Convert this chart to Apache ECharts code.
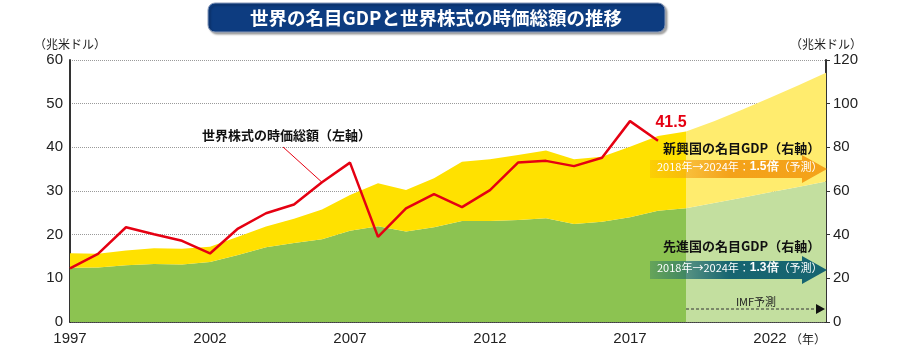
<!DOCTYPE html>
<html>
<head>
<meta charset="utf-8">
<script src="https://cdn.jsdelivr.net/npm/echarts@6/dist/echarts.min.js"></script>
<style>
  html, body { margin: 0; padding: 0; background: #fff; }
  #chart { width: 900px; height: 349px; }
</style>
</head>
<body>
<div id="chart"></div>
<script>
// Years on the horizontal axis
const years = ['1997','1998','1999','2000','2001','2002','2003','2004','2005','2006',
               '2007','2008','2009','2010','2011','2012','2013','2014','2015','2016',
               '2017','2018','2019','2020','2021','2022','2023','2024'];

// Nominal GDP of advanced economies, trillion USD (right axis)
const advancedGdp = [24.9, 25.0, 26.0, 26.6, 26.3, 27.5, 30.7, 34.2, 36.2, 37.9,
                     41.8, 43.8, 41.4, 43.4, 46.3, 46.3, 46.7, 47.5, 44.9, 45.9,
                     48.0, 51.0, 52.1, 54.5, 56.9, 59.4, 61.8, 64.3];

// Nominal GDP of emerging economies, trillion USD (right axis, stacked on advanced)
const emergingGdp = [6.6, 6.3, 6.7, 7.2, 7.3, 7.0, 8.4, 9.5, 11.1, 13.6,
                     16.4, 19.7, 19.1, 22.4, 27.1, 28.2, 29.8, 31.0, 29.6, 29.8,
                     32.3, 34.2, 35.1, 37.5, 40.3, 43.3, 46.5, 49.9];

// World stock market capitalisation, trillion USD (left axis), 1997-2018
const marketCap = [12.3, 15.6, 21.7, 20.1, 18.6, 15.7, 21.4, 24.9, 26.9, 32.0,
                   36.5, 19.5, 26.0, 29.3, 26.3, 30.2, 36.5, 36.9, 35.7, 37.6,
                   46.0, 41.5];

// Tick labels
const leftTicks = [0, 10, 20, 30, 40, 50, 60];
const rightTicks = [0, 20, 40, 60, 80, 100, 120];

// First projected year (IMF forecast)
const forecastFrom = '2019';

const fIdx = years.indexOf(forecastFrom);
const actualPart = arr => arr.map((v, i) => (i <= fIdx ? v : '-'));
const forecastPart = arr => arr.map((v, i) => (i >= fIdx ? v : '-'));
const capData = years.map((y, i) => (i < marketCap.length ? marketCap[i] : '-'));
const lastCap = marketCap.length - 1;
capData[lastCap] = {
  value: marketCap[lastCap],
  label: {
    show: true, position: [13, -18], align: 'center', verticalAlign: 'middle',
    formatter: p => Number(p.value).toFixed(1),
    color: '#E50012', fontSize: 16, fontWeight: 'bold',
    fontFamily: 'Liberation Sans, Arial, sans-serif'
  }
};

const numFont = 'Liberation Sans, Arial, sans-serif';
const jpFont = 'Noto Sans CJK JP, sans-serif';
const everyFive = i => i % 5 === 0;

const area = (name, stack, data, color) => ({
  name, type: 'line', stack, yAxisIndex: 1, data,
  symbol: 'none', smooth: false,
  lineStyle: { width: 0, opacity: 0 },
  areaStyle: { color, opacity: 1 },
  emphasis: { disabled: true },
  z: 2
});

const chart = echarts.init(document.getElementById('chart'), null, { renderer: 'canvas' });

chart.setOption({
  animation: false,
  grid: { left: 70, right: 74, top: 60, bottom: 27, containLabel: false },
  xAxis: {
    type: 'category', data: years, boundaryGap: false,
    axisLine: { lineStyle: { color: '#222', width: 1.5 } },
    axisTick: { show: true, inside: true, length: 4, interval: everyFive, lineStyle: { color: '#222' } },
    axisLabel: { interval: everyFive, color: '#222', fontSize: 15, fontFamily: numFont, margin: 9 },
    splitLine: { show: false }
  },
  yAxis: [
    {
      type: 'value', min: leftTicks[0], max: leftTicks[leftTicks.length - 1], interval: 10,
      position: 'left',
      name: '（兆米ドル）', nameLocation: 'end', nameGap: 10,
      nameTextStyle: { color: '#222', fontSize: 12, fontFamily: jpFont, align: 'center' },
      axisLine: { show: true, lineStyle: { color: '#333', width: 2 } },
      axisTick: { show: false },
      axisLabel: { color: '#222', fontSize: 15, fontFamily: numFont, margin: 7 },
      splitLine: { show: true, lineStyle: { color: '#9a9a9a', type: 'dotted', width: 1 } }
    },
    {
      type: 'value', min: rightTicks[0], max: rightTicks[rightTicks.length - 1], interval: 20,
      position: 'right',
      name: '（兆米ドル）', nameLocation: 'end', nameGap: 10,
      nameTextStyle: { color: '#222', fontSize: 12, fontFamily: jpFont, align: 'center' },
      axisLine: { show: true, lineStyle: { color: '#333', width: 2 } },
      axisTick: { show: true, length: 4, lineStyle: { color: '#333' } },
      axisLabel: { color: '#222', fontSize: 15, fontFamily: numFont, margin: 7 },
      splitLine: { show: false }
    }
  ],
  series: [
    area('先進国（実績）', 'act', actualPart(advancedGdp), '#8CC351'),
    area('新興国（実績）', 'act', actualPart(emergingGdp), '#FFE100'),
    area('先進国（予測）', 'fc', forecastPart(advancedGdp), '#C3DF9F'),
    area('新興国（予測）', 'fc', forecastPart(emergingGdp), '#FFEC6E'),
    {
      name: '世界株式の時価総額', type: 'line', yAxisIndex: 0, data: capData,
      symbol: 'circle', symbolSize: 0, showSymbol: true, showAllSymbol: true,
      itemStyle: { color: '#E50012' },
      lineStyle: { color: '#E50012', width: 2.5 },
      labelLayout: { hideOverlap: false },
      emphasis: { disabled: true }, z: 5
    }
  ]
});

// Annotations placed relative to the axes
const px = (xVal, yVal, axis) => chart.convertToPixel({ xAxisIndex: 0, yAxisIndex: axis }, [xVal, yVal]);
const pt2006 = px('2006', marketCap[years.indexOf('2006')], 0);
const fStart = px(forecastFrom, 0, 1);
const fEnd = px(years[years.length - 1], 0, 1);

function arrow(cy, color, faint, ratio) {
  const x0 = 650, headX = 802, tip = fEnd[0] + 1, bh = 9, hh = 14;
  return [
    {
      type: 'polygon', z: 20,
      shape: { points: [[x0, cy - bh], [headX, cy - bh], [headX, cy - hh], [tip, cy], [headX, cy + hh], [headX, cy + bh], [x0, cy + bh]] },
      style: {
        fill: new echarts.graphic.LinearGradient(0, 0, 1, 0, [
          { offset: 0, color: faint },
          { offset: 0.45, color: color },
          { offset: 1, color: color }
        ])
      }
    },
    {
      type: 'text', z: 21, left: 657, top: cy - 8,
      style: {
        text: '{n|2018年→2024年：}{b|' + ratio + '倍}{n|（予測）}',
        rich: {
          n: { fill: '#fff', fontSize: 11, fontFamily: jpFont },
          b: { fill: '#fff', fontSize: 12, fontWeight: 'bold', fontFamily: numFont }
        }
      }
    }
  ];
}

chart.setOption({
  graphic: [
    // Title banner
    {
      type: 'rect', z: 30,
      shape: { x: 208, y: 3, width: 457, height: 29, r: 7 },
      style: {
        fill: '#0D3C80', stroke: '#8899b8', lineWidth: 1,
        shadowColor: 'rgba(0,0,0,0.35)', shadowBlur: 2, shadowOffsetX: 2, shadowOffsetY: 2
      }
    },
    {
      type: 'text', z: 31, x: 436, y: 18,
      style: {
        text: '世界の名目GDPと世界株式の時価総額の推移',
        fill: '#fff', fontSize: 18.5, fontWeight: 'bold', fontFamily: jpFont,
        align: 'center', verticalAlign: 'middle'
      }
    },
    // Market-cap label with leader line
    {
      type: 'text', z: 20, x: 202, y: 135,
      style: {
        text: '世界株式の時価総額（左軸）', fill: '#111', fontSize: 13, fontWeight: 'bold',
        fontFamily: jpFont, verticalAlign: 'middle'
      }
    },
    {
      type: 'line', z: 20,
      shape: { x1: 283, y1: 147, x2: pt2006[0], y2: pt2006[1] },
      style: { stroke: '#E50012', lineWidth: 1 }
    },
    // Emerging economies
    {
      type: 'text', z: 20, x: 663, y: 148,
      style: {
        text: '新興国の名目GDP（右軸）', fill: '#111', fontSize: 13, fontWeight: 'bold',
        fontFamily: jpFont, verticalAlign: 'middle'
      }
    },
    ...arrow(169, 'rgba(243,156,18,0.92)', 'rgba(243,156,18,0.25)', '1.5'),
    // Advanced economies
    {
      type: 'text', z: 20, x: 663, y: 246,
      style: {
        text: '先進国の名目GDP（右軸）', fill: '#111', fontSize: 13, fontWeight: 'bold',
        fontFamily: jpFont, verticalAlign: 'middle'
      }
    },
    ...arrow(270, 'rgba(13,94,110,0.95)', 'rgba(13,94,110,0.3)', '1.3'),
    // IMF forecast span
    {
      type: 'text', z: 20, x: (fStart[0] + fEnd[0]) / 2, y: 302,
      style: {
        text: 'IMF予測', fill: '#222', fontSize: 11, fontFamily: jpFont,
        align: 'center', verticalAlign: 'middle'
      }
    },
    {
      type: 'line', z: 20,
      shape: { x1: fStart[0], y1: 309, x2: fEnd[0] - 8, y2: 309 },
      style: { stroke: '#333', lineWidth: 1, lineDash: [3, 2] }
    },
    {
      type: 'polygon', z: 20,
      shape: { points: [[fEnd[0] - 10, 304], [fEnd[0] - 1, 309], [fEnd[0] - 10, 314]] },
      style: { fill: '#111' }
    },
    // Year unit
    {
      type: 'text', z: 20, x: 808, y: 339,
      style: {
        text: '（年）', fill: '#222', fontSize: 12, fontFamily: jpFont,
        align: 'center', verticalAlign: 'middle'
      }
    }
  ]
});
</script>
</body>
</html>
